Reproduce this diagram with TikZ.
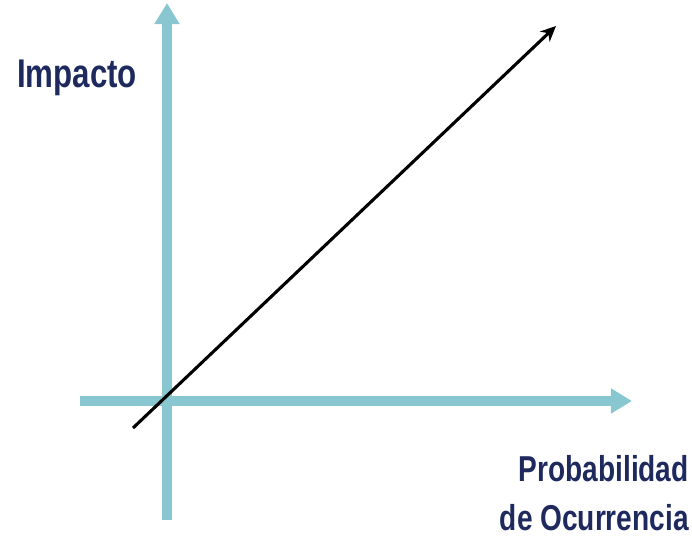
\documentclass[tikz,border=0pt]{standalone}
\usepackage{fontspec}
\setmainfont{Liberation Sans}[FakeStretch=0.78]
\usetikzlibrary{arrows.meta}
\definecolor{navy}{HTML}{1E2A5E}
\definecolor{teal}{HTML}{88C7D0}
\tikzset{
  axis/.style={line width=7pt, draw=teal, -{Triangle[length=15pt,width=17pt]}},
  trend/.style={line width=2.2pt, draw=black, -{Stealth[length=11pt,width=10pt]}},
  label/.style={font=\bfseries, text=navy, inner sep=0pt, align=right}
}
\begin{document}
\begin{tikzpicture}[x=0.025cm, y=-0.025cm]
\useasboundingbox (0,0) rectangle (692,545);
\coordinate (xstart) at (80,401);
\coordinate (xend) at (632,401);
\coordinate (ystart) at (167,520);
\coordinate (yend) at (167,3);
\coordinate (low) at (133,428);
\coordinate (high) at (556,26);
\draw[axis] (xstart) -- (xend);
\draw[axis] (ystart) -- (yend);
% la flecha negra cruza el origen de los ejes
\draw[trend] (low) -- (high);
\node[label, font=\bfseries\fontsize{28.5}{33}\selectfont, anchor=base] (impacto) at (77,88) {Impacto};
\node[label, font=\bfseries\fontsize{25.6}{35}\selectfont, anchor=east] (prob) at (689,493) {Probabilidad\\de Ocurrencia};
\end{tikzpicture}
\end{document}
